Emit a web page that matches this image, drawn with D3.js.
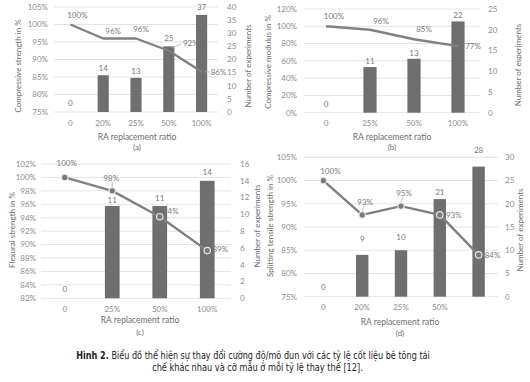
<!DOCTYPE html>
<html><head><meta charset="utf-8">
<script src="https://cdn.jsdelivr.net/npm/d3@7/dist/d3.min.js"></script>
<style>
html,body{margin:0;padding:0;background:#fff;}
svg{display:block;font-family:Lato,'Open Sans',sans-serif;}
</style></head><body>
<svg id="c" width="530" height="382"></svg>
<script>
// ---------- DATA ----------
const catsA = ["0","20%","25%","50%","100%"];
const barsA = [0,14,13,25,37];
const lineA = [1.00,0.96,0.96,0.925,0.865];
const lblA  = ["100%","96%","96%","92%","86%"];

const catsB = ["0","25%","50%","100%"];
const barsB = [0,11,13,22];
const lineB = [1.00,0.96,0.85,0.77];
const lblB  = ["100%","96%","85%","77%"];

const catsC = ["0","25%","50%","100%"];
const barsC = [0,11,11,14];
const lineC = [1.00,0.98,0.9415,0.891];
const lblC  = ["100%","98%","94%","89%"];

const catsD = ["0","20%","25%","50%",""];
const barsD = [0,9,10,21,28];
const lineD = [1.00,0.926,0.945,0.926,0.84];
const lblD  = ["100%","93%","95%","93%","84%"];

const leftTicksA = [0.75,0.80,0.85,0.90,0.95,1.00,1.05];
const rightTicksA = [0,5,10,15,20,25,30,35,40];
const leftTicksB = [0,0.2,0.4,0.6,0.8,1.0,1.2];
const rightTicksB = [0,5,10,15,20,25];
const leftTicksC = [0.82,0.84,0.86,0.88,0.90,0.92,0.94,0.96,0.98,1.00,1.02];
const rightTicksC = [0,2,4,6,8,10,12,14,16];
const leftTicksD = [0.75,0.80,0.85,0.90,0.95,1.00,1.05];
const rightTicksD = [0,5,10,15,20,25,30];

const titlesY = ["Compressive strength in %","Compressive modulus in %","Flexural strength in %","Splitting tensile strength in %"];
const titlesY2 = ["Number of experiments","Number of esperiments","Number of experiments","Number of experiments"];
const xTitle = "RA replacement ratio";
const panelTags = ["(a)","(b)","(c)","(d)"];
const captionBold = "Hình 2.";
const captionLine1 = " Biểu đồ thể hiện sự thay đổi cường độ/mô đun với các tỷ lệ cốt liệu bê tông tái";
const captionLine2 = "chế khác nhau và cỡ mẫu ở mỗi tỷ lệ thay thế [12].";

// ---------- LAYOUT ----------
const panels = [
 {cats:catsA,bars:barsA,line:lineA,lbl:lblA,lt:leftTicksA,rt:rightTicksA,
  x0:54,x1:218,y0:7,y1:112,lx:48,rx:227,ltx:18,lty:66,rtx:248,rty:66,tickY:123,titleX:137,titleY:137,tagY:147,
  markers:false,barW:0.34,
  barOff:[-9,-7,-7,-8,-8],
  lineOff:[[7,-9],[10,-7],[5,-9.5],[22,-8],[17,0]],
  leader:[null,null,null,[[3,-3],[13,-7]],[[3,0],[8,0]]]},
 {cats:catsB,bars:barsB,line:lineB,lbl:lblB,lt:leftTicksB,rt:rightTicksB,
  x0:304,x1:480,y0:9,y1:112.7,lx:297,rx:488,ltx:268,lty:62,rtx:518,rty:65,tickY:123,titleX:392,titleY:137,tagY:147,
  markers:false,barW:0.3,
  barOff:[-9,-6,-6,-6],
  lineOff:[[8,-10.5],[11,-9],[10,-10],[15,0]],
  leader:[null,null,null,null]},
 {cats:catsC,bars:barsC,line:lineC,lbl:lblC,lt:leftTicksC,rt:rightTicksC,
  x0:41,x1:231,y0:164,y1:298.3,lx:36,rx:240,ltx:12,lty:230,rtx:257,rty:226,tickY:309,titleX:140,titleY:320,tagY:332,
  markers:true,barW:0.31,
  barOff:[-9,-5.5,-8,-9],
  lineOff:[[2,-14],[-1,-13],[11,-6],[13,-1]],
  leader:[null,[[0,-4],[0,-9]],null,null]},
 {cats:catsD,bars:barsD,line:lineD,lbl:lblD,lt:leftTicksD,rt:rightTicksD,
  x0:304,x1:498,y0:157.3,y1:296.7,lx:297,rx:505,ltx:270,lty:226,rtx:520,rty:230,tickY:306.7,titleX:400,titleY:321.7,tagY:332.7,
  markers:true,barW:0.32,
  barOff:[-10,-16,-13.5,-6.5,-16],
  lineOff:[[7,-9],[3,-13],[3,-13],[14,0],[14,0]],
  leader:[null,[[0,-4],[2,-9]],[[0,-4],[2,-9]],null,null]}
];

const svg = d3.select("#c");
svg.append("rect").attr("width",530).attr("height",382).attr("fill","#ffffff");

const TICK="#8c8c8c", TITLE="#6e6e6e", GRID="#e3e3e3", BAR="#6f6f6f", LINE="#808080", LBL="#7a7a7a";

panels.forEach((p,i)=>{
  const g = svg.append("g");
  const x = d3.scaleBand().domain(p.cats.map((c,k)=>k)).range([p.x0,p.x1]).padding(0);
  const yl = d3.scaleLinear().domain([p.lt[0],p.lt[p.lt.length-1]]).range([p.y1,p.y0]);
  const yr = d3.scaleLinear().domain([p.rt[0],p.rt[p.rt.length-1]]).range([p.y1,p.y0]);
  const cx = k => x(k)+x.bandwidth()/2;

  g.selectAll("line.grid").data(p.lt).join("line")
    .attr("x1",p.x0).attr("x2",p.x1).attr("y1",d=>yl(d)).attr("y2",d=>yl(d))
    .attr("stroke",GRID).attr("stroke-width",1);

  const pct = d3.format(".0%");
  g.selectAll("text.lt").data(p.lt).join("text")
    .attr("x",p.lx).attr("y",d=>yl(d)).attr("dy","0.35em").attr("text-anchor","end")
    .attr("font-size",8).attr("fill",TICK).text(d=>pct(d));
  g.selectAll("text.rt").data(p.rt).join("text")
    .attr("x",p.rx).attr("y",d=>yr(d)).attr("dy","0.35em").attr("text-anchor","start")
    .attr("font-size",8).attr("fill",TICK).text(d=>d);

  g.selectAll("text.xt").data(p.cats).join("text")
    .attr("x",(d,k)=>cx(k)).attr("y",p.tickY).attr("dy","0.35em").attr("text-anchor","middle")
    .attr("font-size",8).attr("fill",TICK).text(d=>d);

  const bw = x.bandwidth()*p.barW;
  g.selectAll("rect.bar").data(p.bars).join("rect")
    .attr("x",(d,k)=>cx(k)-bw/2).attr("width",bw)
    .attr("y",d=>yr(d)).attr("height",d=>yr(0)-yr(d)).attr("fill",BAR);
  g.selectAll("text.bl").data(p.bars).join("text")
    .attr("x",(d,k)=>cx(k)).attr("y",(d,k)=>yr(d)+p.barOff[k]).attr("dy","0.35em")
    .attr("text-anchor","middle").attr("font-size",8).attr("fill",LBL).text(d=>d);

  const ln = d3.line().x((d,k)=>cx(k)).y(d=>yl(d));
  g.append("path").datum(p.line).attr("d",ln).attr("fill","none")
    .attr("stroke",LINE).attr("stroke-width",2.4).attr("stroke-linejoin","round");
  if(p.markers){
    g.selectAll("circle.m").data(p.line).join("circle")
      .attr("cx",(d,k)=>cx(k)).attr("cy",d=>yl(d)).attr("r",3.2)
      .attr("fill","#7a7a7a").attr("stroke","#e6e6e6").attr("stroke-width",1.2);
  }
  p.leader.forEach((l,k)=>{
    if(!l) return;
    g.append("line").attr("x1",cx(k)+l[0][0]).attr("y1",yl(p.line[k])+l[0][1])
      .attr("x2",cx(k)+l[1][0]).attr("y2",yl(p.line[k])+l[1][1])
      .attr("stroke","#b0b0b0").attr("stroke-width",0.8);
  });
  g.selectAll("text.ll").data(p.lbl).join("text")
    .attr("x",(d,k)=>cx(k)+p.lineOff[k][0]).attr("y",(d,k)=>yl(p.line[k])+p.lineOff[k][1])
    .attr("dy","0.35em").attr("text-anchor","middle").attr("font-size",8).attr("fill",LBL).text(d=>d);

  g.append("text").attr("transform",`translate(${p.ltx},${p.lty}) rotate(-90)`)
    .attr("text-anchor","middle").attr("dy","0.35em").attr("font-size",8).attr("fill",TITLE).text(titlesY[i]);
  g.append("text").attr("transform",`translate(${p.rtx},${p.rty}) rotate(-90)`)
    .attr("text-anchor","middle").attr("dy","0.35em").attr("font-size",8).attr("fill",TITLE).text(titlesY2[i]);
  g.append("text").attr("x",p.titleX).attr("y",p.titleY).attr("dy","0.35em")
    .attr("text-anchor","middle").attr("font-size",8.5).attr("fill",TITLE).text(xTitle);
  g.append("text").attr("x",p.titleX).attr("y",p.tagY).attr("dy","0.35em")
    .attr("text-anchor","middle").attr("font-size",8).attr("fill",TITLE).text(panelTags[i]);
});

// caption: natural flow of tspans, then horizontally scaled to the reference width
function captionLine(parts, cxPos, y, targetW){
  const g = svg.append("g");
  const t = g.append("text").attr("x",0).attr("y",0).attr("dy","0.35em").attr("text-anchor","middle")
    .attr("font-family","'Liberation Sans Narrow','DejaVu Sans Condensed',sans-serif")
    .attr("font-size",10).attr("fill","#222");
  parts.forEach(pt=>{
    const s = t.append("tspan").text(pt.text);
    if(pt.bold) s.attr("font-weight","bold");
  });
  const w = t.node().getComputedTextLength();
  const sx = targetW / w;
  g.attr("transform",`translate(${cxPos},${y}) scale(${sx},1)`);
}
captionLine([{text:captionBold,bold:true},{text:captionLine1,bold:false}], 253, 355, 354);
captionLine([{text:captionLine2,bold:false}], 257.5, 367, 211);
</script>
</body></html>
